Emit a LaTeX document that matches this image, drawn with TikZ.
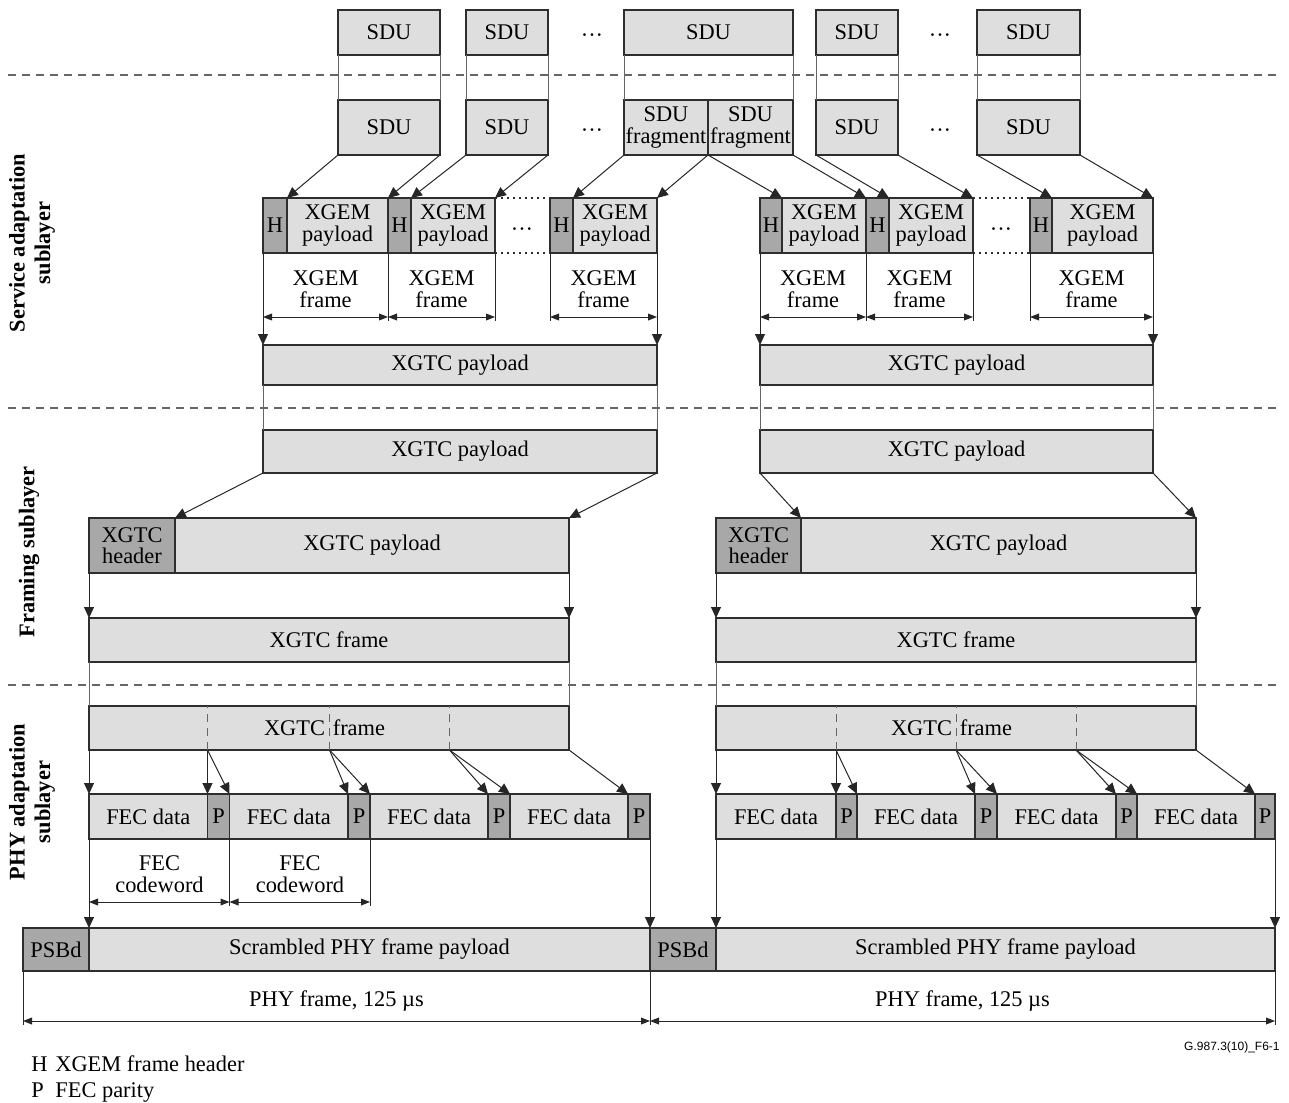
\documentclass[tikz,border=0pt]{standalone}
\usepackage{fontspec}
\setmainfont{Liberation Serif}
\newfontfamily\codefont{Liberation Sans}
\usetikzlibrary{arrows.meta}
\definecolor{lightg}{HTML}{DEDEDE}
\definecolor{darkg}{HTML}{A8A8A8}
\definecolor{bordc}{HTML}{2E2E2E}
\definecolor{linec}{HTML}{262626}
\definecolor{sepc}{HTML}{666666}
\newcommand\mfont{\fontsize{11.2pt}{10.8pt}\selectfont}
\newcommand\lfont{\fontsize{11.2pt}{12.8pt}\selectfont}
\newcommand\bx[7]{%
  \pgfmathsetmacro\bxw{(#4-#2)*0.5}%
  \pgfmathsetmacro\bxh{(#5-#3)*0.5}%
  \pgfmathsetmacro\bxx{(#2+#4)/2}%
  \pgfmathsetmacro\bxy{(#3+#5)/2}%
  \node[#6, minimum width=\bxw pt, minimum height=\bxh pt] (#1) at (\bxx,\bxy) {#7};}
\begin{document}
\begin{tikzpicture}[x=0.5pt,y=-0.5pt,
  lg/.style={draw=bordc, line width=0.8pt, fill=lightg, inner sep=0pt, outer sep=0pt, align=center, font=\mfont},
  dg/.style={lg, fill=darkg},
  conn/.style={draw=linec, line width=0.5pt},
  arr/.style={conn, -{Triangle[length=5.5pt,width=5pt]}},
  dim/.style={conn, {Triangle[length=4.5pt,width=3.4pt]}-{Triangle[length=4.5pt,width=3.4pt]}},
  sep/.style={draw=sepc, line width=0.6pt, dash pattern=on 4pt off 3pt},
  dotl/.style={draw=bordc, line width=0.6pt, dash pattern=on 1pt off 2pt},
  innerd/.style={draw=sepc, line width=0.5pt, dash pattern=on 4pt off 3pt},
  txt/.style={inner sep=0pt, align=center, font=\mfont},
  sidel/.style={draw=sepc, line width=0.5pt}]
\useasboundingbox (0,0) rectangle (1289,1102);

% separators
\draw[sep] (8,75) -- (1280,75);
\draw[sep] (8,408) -- (1280,408);
\draw[sep] (8,685) -- (1280,685);

% layer labels
\node[txt, rotate=90, font=\bfseries\lfont] (lab1) at (32,243) {Service adaptation\\sublayer};
\node[txt, rotate=90, font=\bfseries\lfont] (lab2) at (29,552) {Framing sublayer};
\node[txt, rotate=90, font=\bfseries\lfont] (lab3) at (32,802) {PHY adaptation\\sublayer};

% SDU top row
\bx{st1}{338}{10}{440}{55}{lg}{SDU}
\bx{st2}{466}{10}{548}{55}{lg}{SDU}
\bx{st3}{624}{10}{793}{55}{lg}{SDU}
\bx{st4}{816}{10}{898}{55}{lg}{SDU}
\bx{st5}{977}{10}{1080}{55}{lg}{SDU}
\node[txt] (e1) at (592,38) {···};
\node[txt] (e2) at (940,38) {···};

% SDU lower row
\bx{sb1}{338}{100}{440}{155}{lg}{SDU}
\bx{sb2}{466}{100}{548}{155}{lg}{SDU}
\bx{fr1}{624}{100}{708}{155}{lg}{SDU\\fragment}
\bx{fr2}{708}{100}{793}{155}{lg}{SDU\\fragment}
\bx{sb4}{816}{100}{898}{155}{lg}{SDU}
\bx{sb5}{977}{100}{1080}{155}{lg}{SDU}
\node[txt] (e3) at (592,133) {···};
\node[txt] (e4) at (940,133) {···};

\foreach \a/\b in {st1/sb1,st2/sb2,st4/sb4,st5/sb5}{
  \draw[sidel] (\a.south west) -- (\b.north west);
  \draw[sidel] (\a.south east) -- (\b.north east);}
\draw[sidel] (st3.south west) -- (fr1.north west);
\draw[sidel] (st3.south east) -- (fr2.north east);

% XGEM row
\bx{h1}{263}{198}{287}{253}{dg}{H}
\bx{p1}{287}{198}{388}{253}{lg}{XGEM\\payload}
\bx{h2}{388}{198}{411}{253}{dg}{H}
\bx{p2}{411}{198}{495}{253}{lg}{XGEM\\payload}
\bx{h3}{550}{198}{573}{253}{dg}{H}
\bx{p3}{573}{198}{657}{253}{lg}{XGEM\\payload}
\bx{h4}{760}{198}{782}{253}{dg}{H}
\bx{p4}{782}{198}{866}{253}{lg}{XGEM\\payload}
\bx{h5}{866}{198}{889}{253}{dg}{H}
\bx{p5}{889}{198}{973}{253}{lg}{XGEM\\payload}
\bx{h6}{1030}{198}{1052}{253}{dg}{H}
\bx{p6}{1052}{198}{1153}{253}{lg}{XGEM\\payload}
\node[txt] (e5) at (522,232) {···};
\node[txt] (e6) at (1001,232) {···};
\draw[dotl] (p2.north east) -- (h3.north west);
\draw[dotl] (p2.south east) -- (h3.south west);
\draw[dotl] (p5.north east) -- (h6.north west);
\draw[dotl] (p5.south east) -- (h6.south west);

% SDU -> XGEM arrows
\draw[arr] (sb1.south west) -- (p1.north west);
\draw[arr] (sb1.south east) -- (p1.north east);
\draw[arr] (sb2.south west) -- (p2.north west);
\draw[arr] (sb2.south east) -- (p2.north east);
\draw[arr] (fr1.south west) -- (p3.north west);
\draw[arr] (fr1.south east) -- (p3.north east);
\draw[arr] (fr1.south east) -- (p4.north west);
\draw[arr] (fr2.south east) -- (p4.north east);
\draw[arr] (sb4.south west) -- (p5.north west);
\draw[arr] (sb4.south east) -- (p5.north east);
\draw[arr] (sb5.south west) -- (p6.north west);
\draw[arr] (sb5.south east) -- (p6.north east);

% XGEM frame dimensions
\coordinate (dA) at (0,317);
\coordinate (dB) at (0,321);
\foreach \n/\c in {p1/south east,p2/south east,h3/south west,p4/south east,p5/south east,h6/south west}{
  \draw[conn] (\n.\c) -- (\n.\c |- dB);}
\draw[dim] (h1.south west |- dA) -- (p1.south east |- dA);
\draw[dim] (p1.south east |- dA) -- (p2.south east |- dA);
\draw[dim] (h3.south west |- dA) -- (p3.south east |- dA);
\draw[dim] (h4.south west |- dA) -- (p4.south east |- dA);
\draw[dim] (p4.south east |- dA) -- (p5.south east |- dA);
\draw[dim] (h6.south west |- dA) -- (p6.south east |- dA);
\node[txt] (g1) at (325.5,289) {XGEM\\frame};
\node[txt] (g2) at (441.5,289) {XGEM\\frame};
\node[txt] (g3) at (603.5,289) {XGEM\\frame};
\node[txt] (g4) at (813,289) {XGEM\\frame};
\node[txt] (g5) at (919.5,289) {XGEM\\frame};
\node[txt] (g6) at (1091.5,289) {XGEM\\frame};

% XGTC payload (service)
\bx{xs1}{263}{345}{657}{385}{lg}{XGTC payload}
\bx{xs2}{760}{345}{1153}{385}{lg}{XGTC payload}
\draw[arr] (h1.south west) -- (xs1.north west);
\draw[arr] (p3.south east) -- (xs1.north east);
\draw[arr] (h4.south west) -- (xs2.north west);
\draw[arr] (p6.south east) -- (xs2.north east);

% XGTC payload (framing)
\bx{xf1}{263}{430}{657}{473}{lg}{XGTC payload}
\bx{xf2}{760}{430}{1153}{473}{lg}{XGTC payload}
\foreach \a/\b in {xs1/xf1,xs2/xf2}{
  \draw[sidel] (\a.south west) -- (\b.north west);
  \draw[sidel] (\a.south east) -- (\b.north east);}

% framing box
\bx{hd1}{89}{518}{175}{573}{dg}{XGTC\\header}
\bx{fp1}{175}{518}{569}{573}{lg}{XGTC payload}
\bx{hd2}{716}{518}{801}{573}{dg}{XGTC\\header}
\bx{fp2}{801}{518}{1196}{573}{lg}{XGTC payload}
\draw[arr] (xf1.south west) -- (fp1.north west);
\draw[arr] (xf1.south east) -- (fp1.north east);
\draw[arr] (xf2.south west) -- (fp2.north west);
\draw[arr] (xf2.south east) -- (fp2.north east);

% XGTC frame
\bx{gf1}{89}{618}{569}{662}{lg}{XGTC frame}
\bx{gf2}{716}{618}{1196}{662}{lg}{XGTC frame}
\draw[arr] (hd1.south west) -- (gf1.north west);
\draw[arr] (fp1.south east) -- (gf1.north east);
\draw[arr] (hd2.south west) -- (gf2.north west);
\draw[arr] (fp2.south east) -- (gf2.north east);

% XGTC frame (PHY)
\bx{pf1}{89}{706}{569}{750}{lg}{XGTC\hspace{0.35em}frame\hspace*{0.4em}}
\bx{pf2}{716}{706}{1196}{750}{lg}{XGTC\hspace{0.35em}frame\hspace*{0.4em}}
\foreach \a/\b in {gf1/pf1,gf2/pf2}{
  \draw[sidel] (\a.south west) -- (\b.north west);
  \draw[sidel] (\a.south east) -- (\b.north east);}
\coordinate (k1) at (207.5,750);
\coordinate (k2) at (329.5,750);
\coordinate (k3) at (449.5,750);
\coordinate (k4) at (836,750);
\coordinate (k5) at (956,750);
\coordinate (k6) at (1076,750);
\foreach \k in {k1,k2,k3}{\draw[innerd] (\k) -- (\k |- pf1.north);}
\foreach \k in {k4,k5,k6}{\draw[innerd] (\k) -- (\k |- pf2.north);}

% FEC row
\bx{fd1}{89}{794}{207.5}{839}{lg}{FEC data}
\bx{pp1}{207.5}{794}{229.5}{839}{dg}{P}
\bx{fd2}{229.5}{794}{348}{839}{lg}{FEC data}
\bx{pp2}{348}{794}{370}{839}{dg}{P}
\bx{fd3}{370}{794}{488}{839}{lg}{FEC data}
\bx{pp3}{488}{794}{510}{839}{dg}{P}
\bx{fd4}{510}{794}{628}{839}{lg}{FEC data}
\bx{pp4}{628}{794}{650}{839}{dg}{P}
\bx{fd5}{716}{794}{836}{839}{lg}{FEC data}
\bx{pp5}{836}{794}{857}{839}{dg}{P}
\bx{fd6}{857}{794}{975}{839}{lg}{FEC data}
\bx{pp6}{975}{794}{997}{839}{dg}{P}
\bx{fd7}{997}{794}{1116}{839}{lg}{FEC data}
\bx{pp7}{1116}{794}{1137}{839}{dg}{P}
\bx{fd8}{1137}{794}{1255}{839}{lg}{FEC data}
\bx{pp8}{1255}{794}{1275}{839}{dg}{P}

\draw[arr] (pf1.south west) -- (fd1.north west);
\draw[arr] (k1) -- (pp1.north west);
\draw[arr] (k1) -- (pp1.north east);
\draw[arr] (k2) -- (pp2.north west);
\draw[arr] (k2) -- (pp2.north east);
\draw[arr] (k3) -- (pp3.north west);
\draw[arr] (k3) -- (pp3.north east);
\draw[arr] (pf1.south east) -- (pp4.north west);
\draw[arr] (pf2.south west) -- (fd5.north west);
\draw[arr] (k4) -- (pp5.north west);
\draw[arr] (k4) -- (pp5.north east);
\draw[arr] (k5) -- (pp6.north west);
\draw[arr] (k5) -- (pp6.north east);
\draw[arr] (k6) -- (pp7.north west);
\draw[arr] (k6) -- (pp7.north east);
\draw[arr] (pf2.south east) -- (pp8.north west);

% FEC codeword dimensions
\coordinate (dC) at (0,902);
\coordinate (dD) at (0,906);
\draw[conn] (pp1.south east) -- (pp1.south east |- dD);
\draw[conn] (pp2.south east) -- (pp2.south east |- dD);
\draw[dim] (fd1.south west |- dC) -- (pp1.south east |- dC);
\draw[dim] (pp1.south east |- dC) -- (pp2.south east |- dC);
\node[txt] (c1) at (159.5,874) {FEC\\codeword};
\node[txt] (c2) at (300,874) {FEC\\codeword};

% PHY frame row
\bx{ps1}{23}{928}{89}{971}{dg}{PSBd}
\bx{sp1}{89}{928}{650}{971}{lg}{Scrambled PHY frame payload}
\bx{ps2}{650}{928}{716}{971}{dg}{PSBd}
\bx{sp2}{716}{928}{1275}{971}{lg}{Scrambled PHY frame payload}
\draw[arr] (fd1.south west) -- (sp1.north west);
\draw[arr] (pp4.south east) -- (sp1.north east);
\draw[arr] (fd5.south west) -- (sp2.north west);
\draw[arr] (pp8.south east) -- (sp2.north east);

% PHY frame dimensions
\coordinate (dE) at (0,1021);
\coordinate (dF) at (0,1025);
\draw[conn] (ps1.south west) -- (ps1.south west |- dF);
\draw[conn] (sp1.south east) -- (sp1.south east |- dF);
\draw[conn] (sp2.south east) -- (sp2.south east |- dF);
\draw[dim] (ps1.south west |- dE) -- (sp1.south east |- dE);
\draw[dim] (sp1.south east |- dE) -- (sp2.south east |- dE);
\node[txt] (m1) at (336.5,1001) {PHY frame, 125 µs};
\node[txt] (m2) at (962.5,1001) {PHY frame, 125 µs};

% figure code and legend
\node[inner sep=0pt, anchor=east, font=\codefont\fontsize{6pt}{7pt}\selectfont] (code) at (1280,1047) {G.987.3(10)\_F6-1};
\node[inner sep=0pt, anchor=base west, font=\mfont] (lh) at (31,1071) {H};
\node[inner sep=0pt, anchor=base west, font=\mfont] (lht) at (55,1071) {XGEM frame header};
\node[inner sep=0pt, anchor=base west, font=\mfont] (lp) at (31,1097) {P};
\node[inner sep=0pt, anchor=base west, font=\mfont] (lpt) at (55,1097) {FEC parity};
\end{tikzpicture}
\end{document}
